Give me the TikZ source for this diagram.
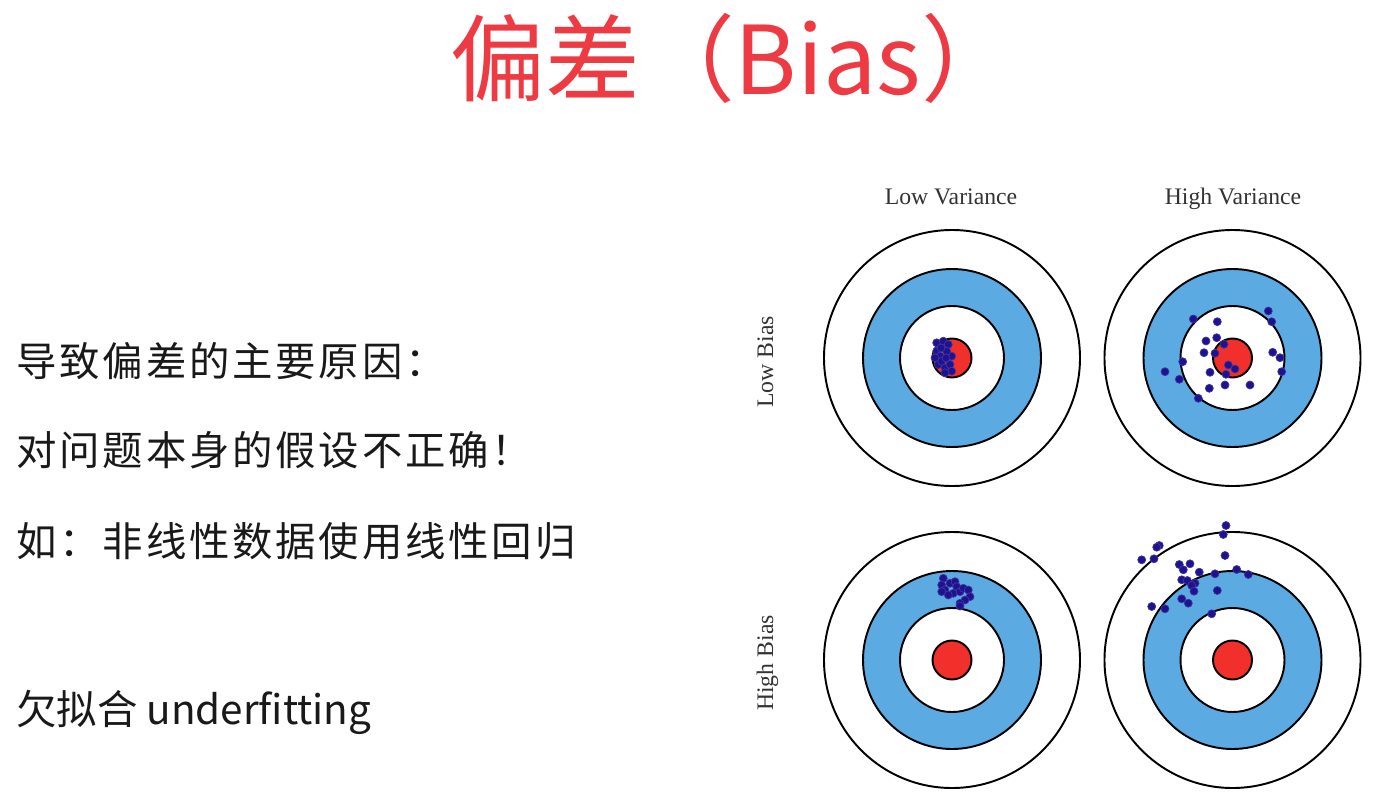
\documentclass[tikz,border=0pt]{standalone}
\usepackage{fontspec}
\setmainfont{Liberation Serif}
\newfontfamily\cjk{Noto Sans CJK SC}
\definecolor{Title}{HTML}{EE3A43}
\definecolor{Ring}{HTML}{5BAAE1}
\definecolor{Bull}{HTML}{F1302C}
\definecolor{Shot}{HTML}{1E128E}
\tikzset{
  ring line/.style={draw=black,line width=1.1pt},
  shot/.style={fill=Shot,draw=Shot!85!white,line width=.4pt},
  head label/.style={font=\fontsize{13.5}{16}\selectfont,text=black!80,inner sep=0pt,anchor=base},
  side label/.style={head label,rotate=90},
  title text/.style={font=\cjk\fontsize{54}{60}\selectfont,text=Title,anchor=west,inner sep=0pt},
  note text/.style={font=\cjk\fontsize{23}{27}\selectfont\addfontfeature{LetterSpace=7},
    text=black!90,anchor=west,inner sep=0pt}
}

\begin{document}
\begin{tikzpicture}[x=0.02cm,y=-0.02cm]
  \useasboundingbox (0,0) rectangle (1374,798);
  \fill[white] (0,0) rectangle (1374,798);

  \node[title text] (title) at (450,58) {偏差（Bias）};

  \node[note text] (cause) at (16,361) {导致偏差的主要原因：};
  \node[note text] (wrong) at (16,450) {对问题本身的假设不正确！};
  \node[note text] (example) at (16,541) {如：非线性数据使用线性回归};
  \node[note text,font=\cjk\fontsize{23}{27}\selectfont] (under) at (16,712) {欠拟合 underfitting};

  % targets
  \coordinate (lblv) at (952,358);
  \coordinate (lbhv) at (1232.5,358);
  \coordinate (hblv) at (952,660);
  \coordinate (hbhv) at (1232.5,660);
  \foreach \c in {lblv,lbhv,hblv,hbhv}{
    \draw[ring line,fill=white] (\c) circle[radius=128];
    \draw[ring line,fill=Ring] (\c) circle[radius=89];
    \draw[ring line,fill=white] (\c) circle[radius=52];
    \draw[ring line,fill=Bull] (\c) circle[radius=19.5];
  }

  \node[head label] (lowvar) at (951,204) {Low Variance};
  \node[head label] (highvar) at (1233,204) {High Variance};
  \node[side label] (lowbias) at (773,362) {Low Bias};
  \node[side label] (highbias) at (773,663) {High Bias};

  % shots
  \foreach \dx/\dy in {-15.3/-15.2,-8.7/-16.8,-3.7/-13.5,-15.3/-6.8,-12/-1.8,-17/-0.2,
      -13.7/6.5,-7/9.8,-2/6.5,-0.3/-1.8,-5.3/-6.8,-0.3/13.2,-7/14.8,-10.3/3.2,-11/-10,-6/0}
    \fill[shot] ([shift={(\dx,\dy)}]lblv) circle[radius=4];
  \foreach \dx/\dy in {-39.2/-39,-15.2/-36.3,35.8/-47,39.2/-36.3,-26.5/-17,-15.8/-20.3,
      -8.5/-13.7,-28.5/-5.3,-17.5/-4.7,-49.8/3.7,-67.5/13.7,-53.2/21.3,-22.5/14.3,-4.2/7,
      2.5/11,-6.5/16.3,-7.5/27,17.5/27,-23.2/30.3,-34.2/40.3,40.2/-5.7,47.5/-0.3,49.2/13.7}
    \fill[shot] ([shift={(\dx,\dy)}]lbhv) circle[radius=4];
  \foreach \dx/\dy in {-8.7/-81.7,-10.3/-75,-7/-70,-10.3/-68.3,-2/-76.7,3/-78.3,4.7/-73.3,
      1.3/-66.7,8/-68.3,11.3/-71.7,16.3/-70,18/-63.3,13/-60,8/-56.7,8/-54,-3.7/-65}
    \fill[shot] ([shift={(\dx,\dy)}]hblv) circle[radius=4];
  \foreach \dx/\dy in {-6.5/-134.5,-9.2/-125.5,-73.2/-114.5,-75.8/-112.8,-90.8/-100.2,
      -78.5/-101.2,-7.5/-104.5,-53.2/-95.5,-42.5/-96.2,-49.2/-90.2,-33.2/-87.8,-17.5/-86.2,
      4.2/-90.5,15.8/-85.5,-50.8/-80.2,-45.2/-79.5,-37.5/-76.8,-40.8/-74.5,-38.5/-68.8,
      -15.2/-69.5,-50.8/-61.2,-44.2/-56.8,-80.8/-53.5,-67.5/-51.2,-20.8/-46.2}
    \fill[shot] ([shift={(\dx,\dy)}]hbhv) circle[radius=4];
\end{tikzpicture}
\end{document}
